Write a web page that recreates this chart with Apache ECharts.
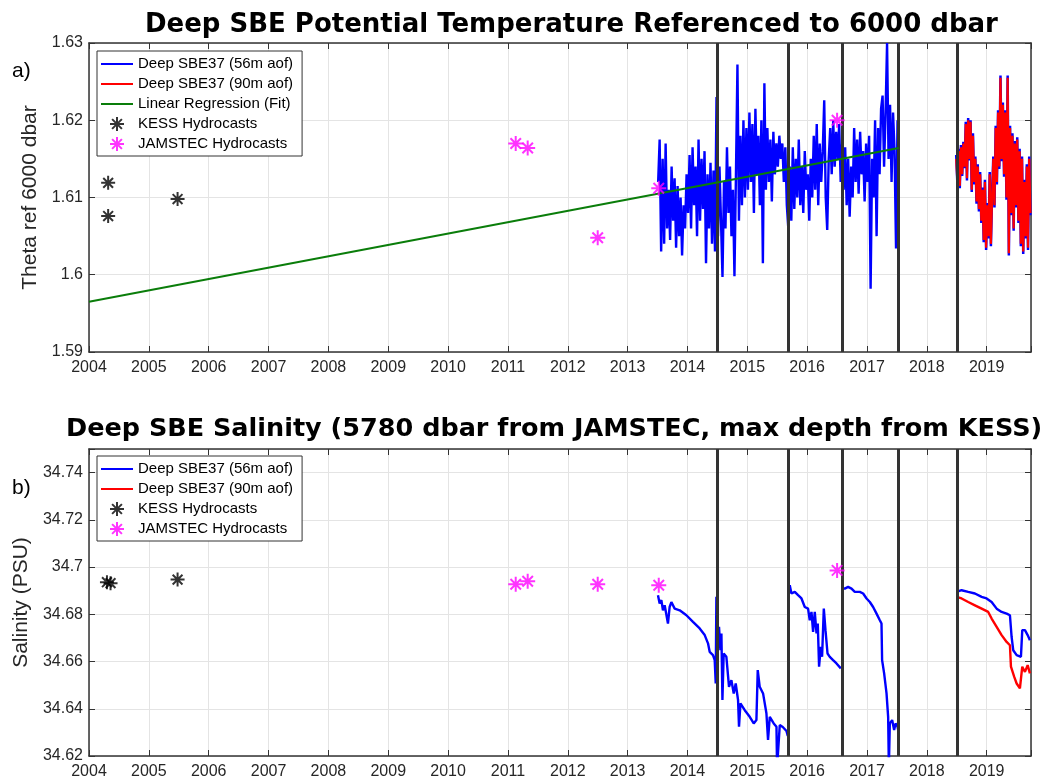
<!DOCTYPE html>
<html><head><meta charset="utf-8">
<script src="https://cdn.jsdelivr.net/npm/echarts@6/dist/echarts.min.js"></script>
<style>html,body{margin:0;padding:0;background:#fff}#c{width:1057px;height:782px}</style>
</head><body><div id="c"></div>
<script>
// ---------- data ----------
const xTickYears = [2004,2005,2006,2007,2008,2009,2010,2011,2012,2013,2014,2015,2016,2017,2018,2019];
const thetaTicks = [1.59,1.60,1.61,1.62,1.63];
const salTicks = [34.62,34.64,34.66,34.68,34.70,34.72,34.74];
const deployBreaks = [2014.49, 2015.68, 2016.58, 2017.53, 2018.51];

const kessTheta = [[2004.32,1.6119],[2004.32,1.6076],[2005.48,1.6098]];
const jamstecTheta = [[2011.13,1.6170],[2011.33,1.6164],[2012.50,1.6048],[2013.52,1.6112],[2016.50,1.6200]];
const fitTheta = [[2004.0,1.5965],[2017.53,1.6164]];

// SBE37 56m aof, theta, 2013.51 onward, sampled every 0.025 yr
const blue56ThetaStart = 2013.51, blue56ThetaStep = 0.025;
const blue56Theta = [
 1.6120,1.6175,1.6030,1.6150,1.6040,1.6170,1.6060,1.6110,1.6045,1.6140,
 1.6070,1.6125,1.6035,1.6115,1.6050,1.6100,1.6025,1.6090,1.6060,1.6130,
 1.6080,1.6155,1.6060,1.6165,1.6090,1.6140,1.6050,1.6175,1.6070,1.6150,
 1.6085,1.6160,1.6015,1.6130,1.6060,1.6145,1.6040,1.6135,1.6030,1.6230,
 1.6050,1.6140,1.6070,1.5997,1.6120,1.6060,1.6165,1.6080,1.6140,1.6050,
 1.6110,1.5998,1.6130,1.6272,1.6070,1.6180,1.6090,1.6200,1.6100,1.6190,
 1.6110,1.6210,1.6120,1.6195,1.6080,1.6215,1.6130,1.6180,1.6090,1.6200,
 1.6015,1.6248,1.6110,1.6190,1.6120,1.6175,1.6095,1.6185,1.6130,1.6170,
 1.6140,1.6180,1.6150,1.6170,1.6120,1.6165,1.6090,
 1.6060,1.6140,1.6070,
 1.6165,1.6085,1.6150,1.6100,1.6175,1.6090,1.6140,1.6080,1.6160,1.6110,
 1.6130,1.6070,1.6150,1.6100,1.6180,1.6110,1.6195,1.6090,1.6170,1.6120,
 1.6160,1.6226,1.6100,1.6058,1.6150,1.6190,1.6130,1.6200,1.6140,1.6185,
 1.6150,1.6195,1.6120,1.6170,
 1.6110,1.6165,1.6090,1.6150,1.6075,1.6140,
 1.6100,1.6190,1.6120,1.6175,1.6105,1.6185,1.6130,1.6160,1.6095,1.6170,
 1.6120,1.6180,1.5982,1.6150,1.6100,1.6200,1.6050,1.6190,1.6130,1.6215,
 1.6232,1.6140,1.6210,1.6300,1.6150,1.6220,1.6120,1.6210,1.6160,1.6034,1.6200
];
// 2018.49 onward, sampled every 0.02 yr
const lateThetaStart = 2018.49, lateThetaStep = 0.02;
const blue56ThetaLate = [
 1.6155,1.6118,1.6163,1.6112,1.6168,1.6128,1.6172,
 1.6138,1.6198,1.6122,1.6203,1.6148,1.6200,1.6107,1.6183,
 1.6117,1.6153,1.6092,1.6143,1.6082,1.6133,1.6067,
 1.6113,1.6042,1.6123,1.6032,1.6093,1.6047,1.6133,1.6037,1.6103,
 1.6153,1.6087,1.6193,1.6117,1.6213,1.6137,
 1.6258,1.6147,1.6223,1.6127,
 1.6213,1.6097,1.6258,1.6025,
 1.6193,1.6077,1.6183,1.6057,1.6173,1.6087,1.6178,1.6067,
 1.6163,1.6037,1.6153,1.6027,1.6123,1.6047,
 1.6143,1.6032,1.6153,1.6077
];
const red90ThetaLate = [
 1.6150,1.6120,1.6160,1.6115,1.6165,1.6130,1.6170,
 1.6140,1.6195,1.6125,1.6200,1.6150,1.6198,1.6110,1.6180,
 1.6120,1.6150,1.6095,1.6140,1.6085,1.6130,1.6070,
 1.6110,1.6045,1.6120,1.6035,1.6090,1.6050,1.6130,1.6040,1.6100,
 1.6150,1.6090,1.6190,1.6120,1.6210,1.6140,
 1.6255,1.6150,1.6220,1.6130,
 1.6210,1.6100,1.6255,1.6028,
 1.6190,1.6080,1.6180,1.6060,1.6170,1.6090,1.6175,1.6070,
 1.6160,1.6040,1.6150,1.6030,1.6120,1.6050,
 1.6140,1.6035,1.6150,1.6080
];

const kessSal = [[2004.30,34.6936],[2004.36,34.6932],[2005.48,34.6947]];
const jamstecSal = [[2011.13,34.6927],[2011.33,34.6940],[2012.50,34.6927],[2013.52,34.6923],[2016.50,34.6986]];

const blue56SalA = [[2013.507,34.6881],[2013.535,34.6846],[2013.564,34.6860],[2013.590,34.6817],[2013.619,34.6838],[2013.674,34.6761],[2013.702,34.6831],[2013.731,34.6852],[2013.786,34.6824],[2013.870,34.6817],[2013.982,34.6796],[2014.092,34.6768],[2014.204,34.6740],[2014.288,34.6712],[2014.343,34.6677],[2014.371,34.6641],[2014.426,34.6627],[2014.455,34.6606],[2014.472,34.6507],[2014.483,34.6874],[2014.500,34.6704],[2014.527,34.6747],[2014.550,34.6648],[2014.567,34.6719],[2014.584,34.6437],[2014.605,34.6634],[2014.650,34.6620],[2014.694,34.6493],[2014.734,34.6521],[2014.773,34.6465],[2014.806,34.6507],[2014.845,34.6437],[2014.861,34.6324],[2014.885,34.6423],[2014.957,34.6394],[2015.040,34.6366],[2015.107,34.6338],[2015.152,34.6352],[2015.174,34.6564],[2015.207,34.6493],[2015.263,34.6465],[2015.319,34.6381],[2015.346,34.6268],[2015.375,34.6366],[2015.441,34.6338],[2015.487,34.6324],[2015.497,34.6150],[2015.542,34.6331],[2015.592,34.6323],[2015.654,34.6306],[2015.676,34.6285]];
const blue56SalB = [[2015.692,34.6902],[2015.709,34.6923],[2015.737,34.6888],[2015.793,34.6895],[2015.848,34.6881],[2015.905,34.6867],[2015.960,34.6831],[2016.015,34.6824],[2016.043,34.6775],[2016.072,34.6810],[2016.099,34.6726],[2016.127,34.6810],[2016.156,34.6719],[2016.177,34.6761],[2016.199,34.6578],[2016.227,34.6662],[2016.249,34.6620],[2016.278,34.6824],[2016.306,34.6733],[2016.340,34.6634],[2016.378,34.6620],[2016.433,34.6606],[2016.490,34.6592],[2016.562,34.6571]];
const blue56SalC = [[2016.590,34.6909],[2016.629,34.6909],[2016.684,34.6916],[2016.741,34.6909],[2016.796,34.6895],[2016.880,34.6895],[2016.935,34.6888],[2016.992,34.6867],[2017.047,34.6852],[2017.102,34.6831],[2017.159,34.6803],[2017.214,34.6775],[2017.242,34.6761],[2017.252,34.6606],[2017.286,34.6550],[2017.326,34.6465],[2017.353,34.6366],[2017.365,34.6150],[2017.381,34.6338],[2017.420,34.6352],[2017.453,34.6310],[2017.477,34.6338],[2017.510,34.6324],[2017.532,34.6296]];
const blue56SalD = [[2018.497,34.6895],[2018.580,34.6902],[2018.691,34.6895],[2018.803,34.6888],[2018.915,34.6874],[2018.998,34.6867],[2019.082,34.6852],[2019.166,34.6824],[2019.249,34.6810],[2019.333,34.6803],[2019.388,34.6796],[2019.416,34.6704],[2019.443,34.6648],[2019.500,34.6627],[2019.572,34.6620],[2019.594,34.6733],[2019.639,34.6733],[2019.684,34.6712],[2019.722,34.6690]];
const red90Sal = [[2018.497,34.6874],[2018.580,34.6867],[2018.691,34.6852],[2018.803,34.6838],[2018.915,34.6824],[2019.025,34.6810],[2019.082,34.6782],[2019.166,34.6747],[2019.249,34.6712],[2019.333,34.6683],[2019.388,34.6669],[2019.405,34.6578],[2019.460,34.6535],[2019.500,34.6507],[2019.555,34.6486],[2019.594,34.6578],[2019.639,34.6556],[2019.684,34.6585],[2019.722,34.6550]];

// ---------- build ----------
const toSeries = (start, step, vals) => vals.map((v, i) => [+(start + i * step).toFixed(4), v]);
const N56 = 'Deep SBE37 (56m aof)', N90 = 'Deep SBE37 (90m aof)', NFIT = 'Linear Regression (Fit)', NK = 'KESS Hydrocasts', NJ = 'JAMSTEC Hydrocasts';
const ASTER = 'path://M10,0L10,20M0,10L20,10M3,3L17,17M3,17L17,3';
const FONT = 'Liberation Sans';
const AX = '#333333', GRIDC = '#e4e4e4';

function xAxes(grid) {
  return [{
    type:'value', gridIndex:grid, min:2004, max:2019.74, interval:1,
    axisLine:{show:true, lineStyle:{color:AX, width:1.5}},
    axisTick:{show:true, inside:true, length:6, lineStyle:{color:AX, width:1}},
    axisLabel:{fontFamily:FONT, fontSize:16, color:'#262626', margin:8,
      formatter:v => { const r = Math.round(v); return (Math.abs(v-r)<1e-6 && xTickYears.includes(r)) ? String(r) : ''; }},
    splitLine:{show:true, lineStyle:{color:GRIDC, width:1}}
  },{
    type:'value', gridIndex:grid, position:'top', min:2004, max:2019.74, interval:1,
    axisLine:{show:true, lineStyle:{color:AX, width:1.5}},
    axisTick:{show:true, inside:true, length:6, lineStyle:{color:AX, width:1}},
    axisLabel:{show:false}, splitLine:{show:false}
  }];
}
function yAxes(grid, min, max, interval, ticks, name, dec) {
  const fmt = v => { const t = ticks.find(t => Math.abs(t - v) < 1e-6); return t === undefined ? '' : String(+t.toFixed(dec)); };
  return [{
    type:'value', gridIndex:grid, min, max, interval, name, nameLocation:'middle', nameGap:41,
    nameTextStyle:{fontFamily:FONT, fontSize:21, color:'#262626'},
    axisLine:{show:true, lineStyle:{color:AX, width:1.5}},
    axisTick:{show:true, inside:true, length:6, lineStyle:{color:AX, width:1}},
    axisLabel:{fontFamily:FONT, fontSize:16, color:'#262626', margin:6, formatter:fmt},
    splitLine:{show:true, lineStyle:{color:GRIDC, width:1}}
  },{
    type:'value', gridIndex:grid, position:'right', min, max, interval,
    axisLine:{show:true, lineStyle:{color:AX, width:1.5}},
    axisTick:{show:true, inside:true, length:6, lineStyle:{color:AX, width:1}},
    axisLabel:{show:false}, splitLine:{show:false}
  }];
}
const lineS = (name, data, color, w, xi, yi, z) => ({type:'line', name, data, xAxisIndex:xi, yAxisIndex:yi, symbol:'none', showSymbol:false, lineStyle:{color, width:w}, itemStyle:{color}, z, silent:true});
const starS = (name, data, color, xi, yi, size) => ({type:'scatter', name, data, xAxisIndex:xi, yAxisIndex:yi, symbol:ASTER, symbolSize:size, symbolKeepAspect:true, itemStyle:{color, borderColor:color, borderWidth:2}, z:10, silent:true});
const breaksS = (xi, yi) => ({type:'line', data:[], xAxisIndex:xi, yAxisIndex:yi, z:1, silent:true,
  markLine:{silent:true, symbol:['none','none'], label:{show:false}, animation:false,
    lineStyle:{color:'#333333', width:3, type:'solid'}, emphasis:{disabled:true},
    data:deployBreaks.map(x => ({xAxis:x}))}});

const legendBase = {orient:'vertical', left:97, padding:[5,9,4,3], itemGap:4, itemWidth:32, itemHeight:14,
  backgroundColor:'#fff', borderColor:'#333', borderWidth:1, selectedMode:false,
  textStyle:{fontFamily:FONT, fontSize:15, color:'#000', lineHeight:16}};
const legLine = (name, color) => ({name, itemStyle:{opacity:0}, lineStyle:{color, width:2}});
const legIcon = (name, color) => ({name, icon:ASTER, itemStyle:{color, borderColor:color, borderWidth:2}});

const option = {
  animation:false,
  backgroundColor:'#fff',
  title:[
    {text:'Deep SBE Potential Temperature Referenced to 6000 dbar', left:145, top:12, padding:0,
      textStyle:{fontFamily:'DejaVu Sans', fontWeight:'bold', fontSize:26, color:'#000'}},
    {text:'Deep SBE Salinity (5780 dbar from JAMSTEC, max depth from KESS)', left:66, top:416, padding:0,
      textStyle:{fontFamily:'DejaVu Sans', fontWeight:'bold', fontSize:25.5, color:'#000'}}
  ],
  graphic:[
    {type:'text', left:12, top:61, style:{text:'a)', font:'21px Liberation Sans', fill:'#000'}},
    {type:'text', left:12, top:478, style:{text:'b)', font:'21px Liberation Sans', fill:'#000'}}
  ],
  grid:[
    {left:89, top:43, width:942, height:309},
    {left:89, top:449, width:942, height:307}
  ],
  xAxis:[...xAxes(0), ...xAxes(1)],
  yAxis:[...yAxes(0, 1.59, 1.63, 0.01, thetaTicks, 'Theta ref 6000 dbar', 2),
         ...yAxes(1, 34.62, 34.75, 0.02, salTicks, 'Salinity (PSU)', 2)],
  legend:[
    Object.assign({}, legendBase, {top:51, data:[legLine(N56,'#0000ff'),legLine(N90,'#ff0000'),legLine(NFIT,'#0a7d0a'),legIcon(NK,'#000'),legIcon(NJ,'#ff00ff')]}),
    Object.assign({}, legendBase, {top:456, data:[legLine(N56,'#0000ff'),legLine(N90,'#ff0000'),legIcon(NK,'#000'),legIcon(NJ,'#ff00ff')]})
  ],
  series:[
    breaksS(0,0),
    lineS(N56, toSeries(blue56ThetaStart, blue56ThetaStep, blue56Theta), '#0000ff', 2.4, 0, 0, 3),
    lineS(N56, toSeries(lateThetaStart, lateThetaStep, blue56ThetaLate), '#0000ff', 2.5, 0, 0, 3),
    lineS(N90, toSeries(lateThetaStart, lateThetaStep, red90ThetaLate), '#ff0000', 2.2, 0, 0, 4),
    lineS(NFIT, fitTheta, '#0a7d0a', 2, 0, 0, 5),
    starS(NK, kessTheta, '#000000', 0, 0, 14),
    starS(NJ, jamstecTheta, '#ff00ff', 0, 0, 15),

    breaksS(2,2),
    lineS(N56, blue56SalA, '#0000ff', 2.4, 2, 2, 3),
    lineS(N56, blue56SalB, '#0000ff', 2.4, 2, 2, 3),
    lineS(N56, blue56SalC, '#0000ff', 2.4, 2, 2, 3),
    lineS(N56, blue56SalD, '#0000ff', 2.4, 2, 2, 3),
    lineS(N90, red90Sal, '#ff0000', 2.4, 2, 2, 4),
    starS(NK, kessSal, '#000000', 2, 2, 14),
    starS(NJ, jamstecSal, '#ff00ff', 2, 2, 15)
  ]
};
const chart = echarts.init(document.getElementById('c'), null, {renderer:'canvas'});
chart.setOption(option);
</script></body></html>
